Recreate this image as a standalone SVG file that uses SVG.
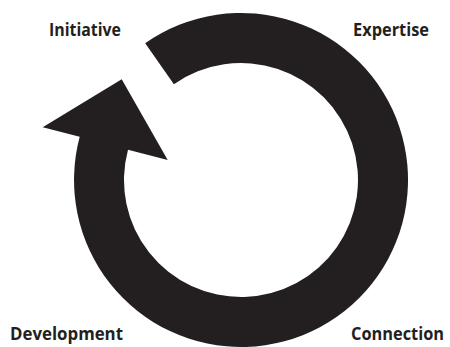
<svg xmlns="http://www.w3.org/2000/svg" width="450" height="347" viewBox="0 0 450 347">
<style>
.lbl{font-family:"Open Sans","Liberation Sans",sans-serif;font-weight:bold;font-size:17.5px;fill:#231f20}
.ring{fill:#231f20}
</style>
<rect width="450" height="347" fill="#ffffff"/>
<g id="connectors">
<path class="ring" d="M 145.2 43.2 A 167 167 0 1 1 79.7 136.8 L 42.7 127.3 L 121.7 79.3 L 167.7 160 L 128 149.7 A 117 117 0 1 0 173.9 84.2 Z"/>
</g>
<g id="initiative"><text class="lbl" x="49" y="36" textLength="72" lengthAdjust="spacingAndGlyphs">Initiative</text></g>
<g id="expertise"><text class="lbl" x="353" y="36" textLength="76" lengthAdjust="spacingAndGlyphs">Expertise</text></g>
<g id="development"><text class="lbl" x="10" y="340" textLength="113" lengthAdjust="spacingAndGlyphs">Development</text></g>
<g id="connection"><text class="lbl" x="351" y="339.5" textLength="93" lengthAdjust="spacingAndGlyphs">Connection</text></g>
</svg>
